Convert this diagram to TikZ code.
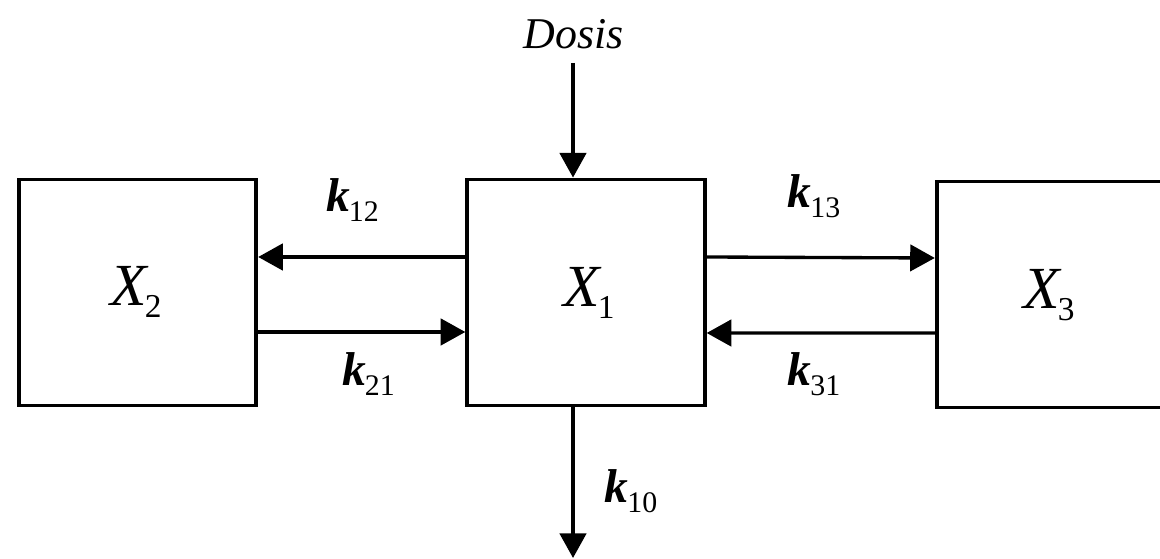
\documentclass[tikz,border=0pt]{standalone}
\usepackage{fontspec}
\setmainfont{Liberation Serif}
\usetikzlibrary{positioning, arrows.meta, calc}

% nome di compartimento e costante di velocita'
\newcommand{\comp}[1]{\fontsize{34}{38}\selectfont\textit{X}\kern-0.07em\raisebox{-0.2em}{\fontsize{19}{21}\selectfont #1}}
\newcommand{\krate}[1]{\fontsize{27}{30}\selectfont\textbf{\textit{k}}\kern-0.02em\raisebox{-0.2em}{\fontsize{17}{19}\selectfont #1}}

\begin{document}
\begin{tikzpicture}[
    box/.style={draw, line width=2.2pt, minimum width=4.75cm, minimum height=4.52cm, inner sep=0pt},
    flow/.style={-{Triangle[length=14pt, width=15pt]}, line width=1.9pt}
]
\clip (0,0) rectangle (23.2,11.18);

% Compartimenti
\node[box] (x1) at (11.72,5.33) {};
\node[box] (x2) at (2.75,5.33) {};
\node[box] (x3) at (21.11,5.29) {};

\node (t1) at (11.78,5.33) {\comp{1}};
\node (t2) at (2.72,5.34) {\comp{2}};
\node (t3) at (20.98,5.28) {\comp{3}};

% Dosis e eliminazione
\node (dose) at (11.48,10.5) {\fontsize{25}{28}\selectfont\textit{Dosis}};
\coordinate (in) at (11.46,9.92);
\coordinate (sink) at (11.46,0.02);

\draw[flow] (in) -- (in |- x1.north);
\draw[flow] (sink |- x1.south) -- (sink);

% Scambi tra compartimenti
\draw[flow] ([yshift=0.71cm]x1.west) -- ([yshift=0.71cm]x2.east);
\draw[flow] ([yshift=-0.79cm]x2.east) -- ([yshift=-0.79cm]x1.west);
\draw[flow] ([yshift=0.71cm]x1.east) -- ([yshift=0.73cm]x3.west);
\draw[flow] ([yshift=-0.77cm]x3.west) -- ([yshift=-0.81cm]x1.east);

% Costanti
\node (k12) at (7.05,7.18) {\krate{12}};
\node (k21) at (7.37,3.7) {\krate{21}};
\node (k13) at (16.28,7.26) {\krate{13}};
\node (k31) at (16.28,3.7) {\krate{31}};
\node (k10) at (12.62,1.36) {\krate{10}};

\end{tikzpicture}
\end{document}
